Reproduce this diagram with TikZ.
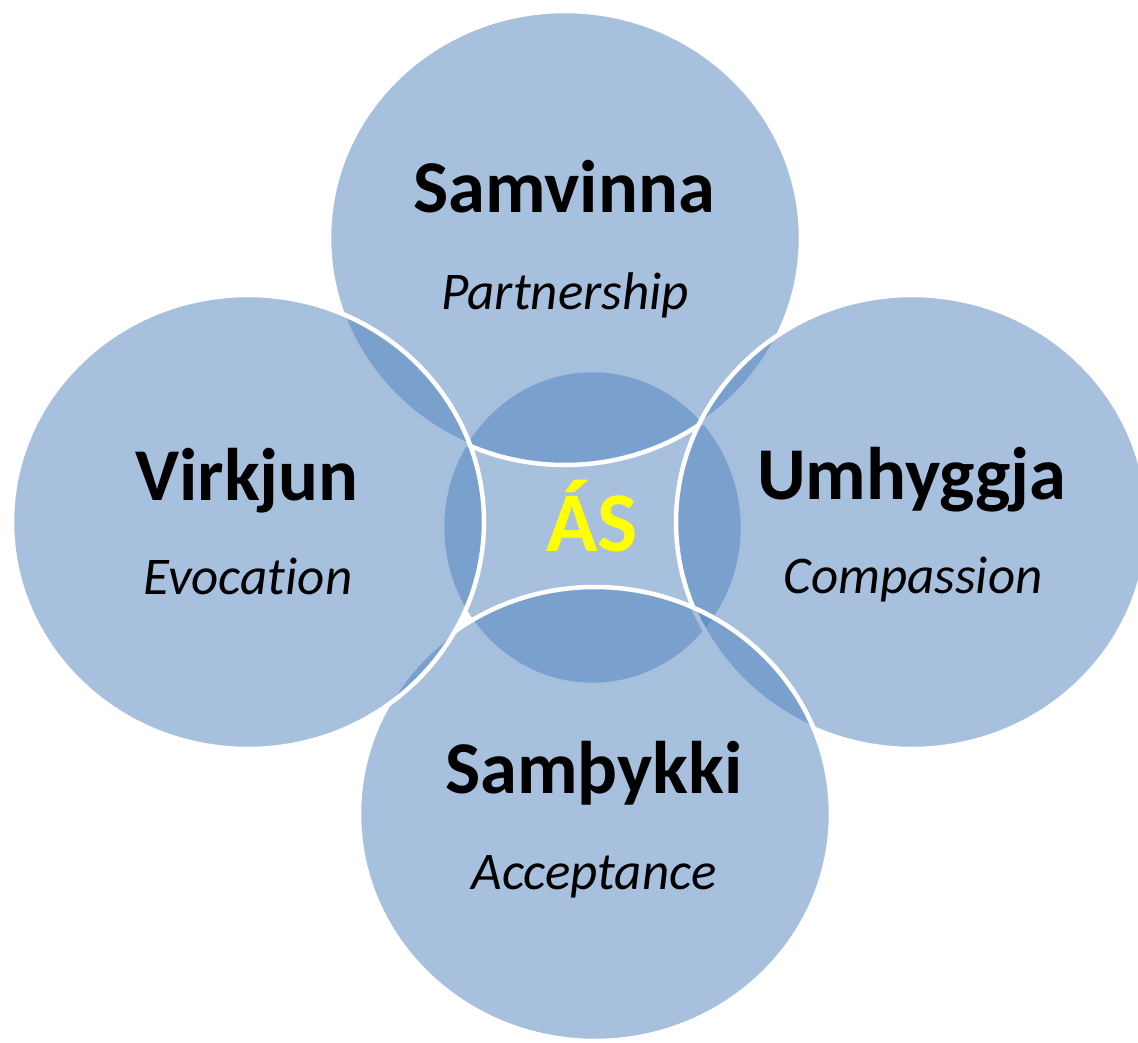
\documentclass[tikz,border=0pt]{standalone}
\usepackage{fontspec}
\setmainfont{Carlito}[Ligatures=NoCommon]
\usetikzlibrary{shapes.geometric}

\definecolor{accent}{HTML}{4F81BD}
\definecolor{asyellow}{HTML}{FFFF00}

\tikzset{
  petal/.style={ellipse, fill=accent, fill opacity=0.5, draw=white,
    draw opacity=1, line width=4.5pt, inner sep=0pt,
    minimum width=472pt, minimum height=454pt},
  hub/.style={petal, minimum width=301pt, minimum height=315pt},
  headword/.style={anchor=base, inner sep=0pt, text=black,
    font=\fontsize{74.5}{80}\selectfont\bfseries},
  gloss/.style={anchor=base, inner sep=0pt, text=black,
    font=\fontsize{53}{58}\selectfont\itshape},
  core/.style={anchor=base, inner sep=0pt, text=asyellow,
    font=\fontsize{85}{90}\selectfont\bfseries}
}

\begin{document}
\begin{tikzpicture}[x=1pt, y=-1pt]
  \useasboundingbox (0,0) rectangle (1138,1043);

  % translucent discs, drawn in stacking order
  \node[hub]   (hub)   at (592.5,527.5) {};
  \node[petal] (north) at (565,238) {};
  \node[petal] (east)  at (912,522) {};
  \node[petal] (south) at (595,814) {};
  \node[petal] (west)  at (248,522) {};

  % labels
  \node[headword] (samvinna) at (564,213) {Samvinna};
  \node[gloss]    (partner)  at (565,309) {Partnership};
  \node[headword] (virkjun)  at (247,500) {Virkjun};
  \node[gloss]    (evoc)     at (248,594) {Evocation};
  \node[headword] (umhyggja) at (912,499) {Umhyggja};
  \node[gloss]    (compass)  at (913,593) {Compassion};
  \node[headword] (sambykki) at (594,793) {Samþykki};
  \node[gloss]    (accept)   at (594,889) {Acceptance};
  \node[core]     (as)       at (592,551) {ÁS};
\end{tikzpicture}
\end{document}
